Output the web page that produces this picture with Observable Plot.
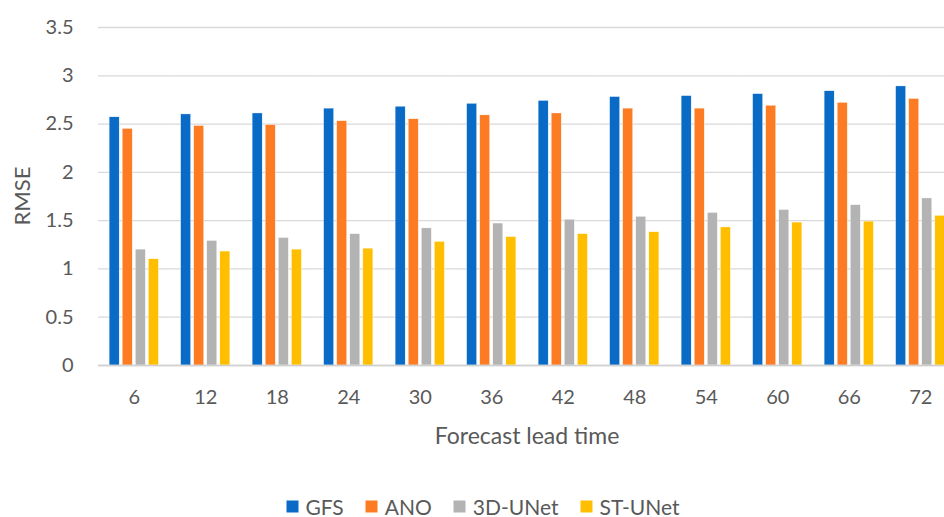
<!DOCTYPE html>
<html>
<head>
<meta charset="utf-8">
<script src="https://cdn.jsdelivr.net/npm/d3@7"></script>
<script src="https://cdn.jsdelivr.net/npm/@observablehq/plot@0.6"></script>
<style>
  html, body { margin: 0; padding: 0; background: #fff; overflow: hidden; }
  #wrap { position: relative; width: 944px; height: 517px; overflow: hidden; font-family: Lato, "Open Sans", sans-serif; color: #595959; }
  #chart { position: absolute; left: 0; top: 0; width: 965px; }
  #chart svg { max-width: none !important; }
  #ylabel { position: absolute; left: 21px; top: 196px; transform: translate(-50%, -50%) rotate(-90deg); font-size: 22px; white-space: nowrap; }
  #xlabel { position: absolute; left: 527px; top: 435px; transform: translate(-50%, -50%); font-size: 23px; white-space: nowrap; }
  #legend { position: absolute; top: 506px; left: 483px; transform: translate(-50%, -50%); display: flex; gap: 22px; font-size: 21px; white-space: nowrap; align-items: center; }
  #legend .item { display: flex; align-items: center; gap: 7px; }
  #legend .sw { width: 12px; height: 12px; display: inline-block; }
</style>
</head>
<body>
<div id="wrap">
  <div id="chart"></div>
  <div id="ylabel">RMSE</div>
  <div id="xlabel">Forecast lead time</div>
  <div id="legend"></div>
</div>
<script>
const leadTimes = [6, 12, 18, 24, 30, 36, 42, 48, 54, 60, 66, 72];
const seriesNames = ["GFS", "ANO", "3D-UNet", "ST-UNet"];
const seriesColors = ["#0a6bc6", "#fd7b23", "#b3b3b3", "#ffbf00"];
const gfs    = [2.57, 2.60, 2.61, 2.66, 2.68, 2.71, 2.74, 2.78, 2.79, 2.81, 2.84, 2.89];
const ano    = [2.45, 2.48, 2.49, 2.53, 2.55, 2.59, 2.61, 2.66, 2.66, 2.69, 2.72, 2.76];
const unet3d = [1.20, 1.29, 1.32, 1.36, 1.42, 1.47, 1.51, 1.54, 1.58, 1.61, 1.66, 1.73];
const stunet = [1.10, 1.18, 1.20, 1.21, 1.28, 1.33, 1.36, 1.38, 1.43, 1.48, 1.49, 1.55];
const yTicks = [0, 0.5, 1, 1.5, 2, 2.5, 3, 3.5];

const seriesValues = [gfs, ano, unet3d, stunet];
const data = [];
leadTimes.forEach((t, i) => {
  seriesNames.forEach((s, j) => data.push({lead: t, series: s, rmse: seriesValues[j][i]}));
});

const chart = Plot.plot({
  width: 965,
  height: 460,
  marginTop: 27,
  marginBottom: 95,
  marginLeft: 98,
  marginRight: 9,
  style: {fontFamily: "Lato, 'Open Sans', sans-serif", fontSize: "20px", color: "#595959", background: "#fff", maxWidth: "none"},
  fx: {domain: leadTimes, padding: 0, round: false, label: null, tickSize: 0, tickPadding: 24},
  x: {domain: seriesNames, paddingInner: 0.23, paddingOuter: 0.85, round: false, axis: null},
  y: {domain: [0, 3.5], ticks: yTicks, tickFormat: d => String(d), tickSize: 0, tickPadding: 25, label: null},
  color: {domain: seriesNames, range: seriesColors},
  marks: [
    Plot.gridY(yTicks, {stroke: "#d9d9d9", strokeOpacity: 1, strokeWidth: 1.3}),
    Plot.barY(data, {fx: "lead", x: "series", y: "rmse", fill: "series", stroke: "#ffffff", strokeWidth: 0.4}),
    Plot.ruleY([0], {stroke: "#d0d0d0", strokeWidth: 1.3})
  ]
});
document.getElementById("chart").appendChild(chart);

const legend = document.getElementById("legend");
seriesNames.forEach((s, j) => {
  const item = document.createElement("span");
  item.className = "item";
  const sw = document.createElement("span");
  sw.className = "sw";
  sw.style.background = seriesColors[j];
  const label = document.createElement("span");
  label.textContent = s;
  item.appendChild(sw);
  item.appendChild(label);
  legend.appendChild(item);
});
</script>
</body>
</html>
